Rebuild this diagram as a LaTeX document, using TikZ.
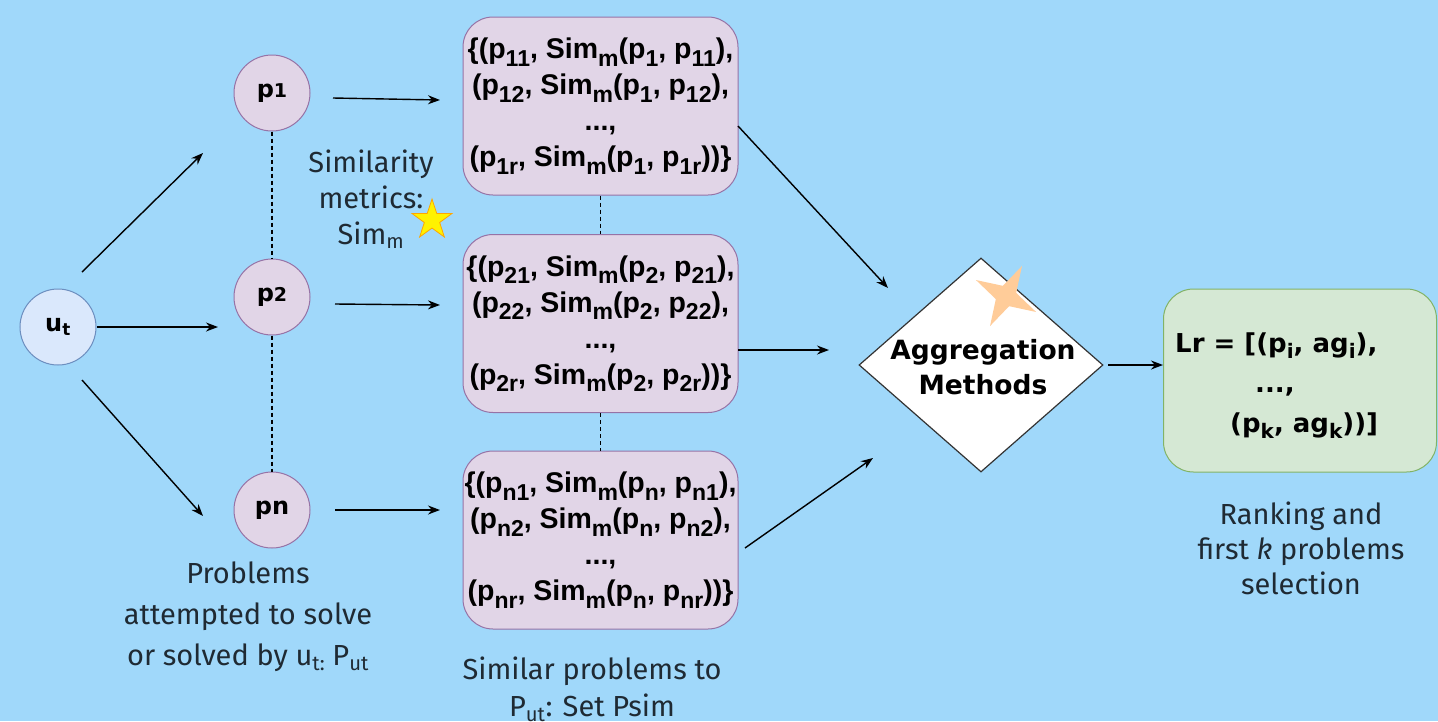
\documentclass[tikz,border=0pt]{standalone}
\usepackage{fontspec}
\setmainfont{Liberation Sans}
\newfontfamily\lblfont{Fira Sans}
\newfontfamily\vfont{DejaVu Sans}
\usetikzlibrary{shapes.geometric,arrows.meta}
\definecolor{bgblue}{RGB}{160,216,250}
\definecolor{purpfill}{HTML}{E1D5E7}
\definecolor{purpline}{HTML}{9673A6}
\definecolor{bluefill}{HTML}{DAE8FC}
\definecolor{blueline}{HTML}{6C8EBF}
\definecolor{greenfill}{HTML}{D5E8D4}
\definecolor{greenline}{HTML}{82B366}
\definecolor{starorange}{HTML}{FFCC99}
\definecolor{labelgray}{HTML}{1F2A33}
\newcommand{\sbx}[1]{\raisebox{-0.26em}{\fontsize{23}{23}\selectfont #1}}
\newcommand{\gsb}[1]{\raisebox{-0.25em}{\fontsize{20}{20}\selectfont #1}}
\begin{document}
\begin{tikzpicture}[x=1pt,y=-1pt,
  arr/.style={line width=1.4pt,-{Stealth[length=12pt,width=9pt]}},
  dsh/.style={line width=1.2pt,dash pattern=on 4pt off 3pt},
  pcirc/.style={circle,draw=purpline,fill=purpfill,line width=1pt,minimum size=76pt,inner sep=0pt,font=\vfont\bfseries\fontsize{24}{28}\selectfont},
  ucirc/.style={pcirc,draw=blueline,fill=bluefill},
  pbox/.style={rectangle,rounded corners=30pt,draw=purpline,fill=purpfill,line width=1pt,minimum width=275pt,minimum height=178pt,align=center,inner sep=0pt,font=\bfseries\fontsize{28.5}{36}\selectfont},
  gbox/.style={rectangle,rounded corners=30pt,draw=greenline,fill=greenfill,line width=1pt,minimum width=273pt,minimum height=183pt},
  gtext/.style={anchor=base west,inner sep=0pt,font=\vfont\bfseries\fontsize{26}{26}\selectfont},
  lbl/.style={anchor=north,align=center,text=labelgray,inner sep=0pt},
]
\fill[bgblue] (0,0) rectangle (1438,721);
\useasboundingbox (0,0) rectangle (1438,721);

% circles
\node[ucirc] (ut) at (58,327) {u\textsubscript{t}};
\node[pcirc] (p1) at (272,93) {p{\fontsize{19}{19}\selectfont 1}};
\node[pcirc] (p2) at (272,297) {p{\fontsize{19}{19}\selectfont 2}};
\node[pcirc] (pn) at (272,510) {pn};

% boxes
\node[pbox] (b1) at (600.5,106) {\{(p\sbx{11}, Sim\sbx{m}(p\sbx{1}, p\sbx{11}),\\(p\sbx{12}, Sim\sbx{m}(p\sbx{1}, p\sbx{12}),\\...,\\(p\sbx{1r}, Sim\sbx{m}(p\sbx{1}, p\sbx{1r}))\}};
\node[pbox] (b2) at (600.5,323.5) {\{(p\sbx{21}, Sim\sbx{m}(p\sbx{2}, p\sbx{21}),\\(p\sbx{22}, Sim\sbx{m}(p\sbx{2}, p\sbx{22}),\\...,\\(p\sbx{2r}, Sim\sbx{m}(p\sbx{2}, p\sbx{2r}))\}};
\node[pbox] (b3) at (600.5,540) {\{(p\sbx{n1}, Sim\sbx{m}(p\sbx{n}, p\sbx{n1}),\\(p\sbx{n2}, Sim\sbx{m}(p\sbx{n}, p\sbx{n2}),\\...,\\(p\sbx{nr}, Sim\sbx{m}(p\sbx{n}, p\sbx{nr}))\}};

% diamond
\node[diamond,draw=black!80,fill=white,line width=1.2pt,minimum width=244pt,minimum height=214pt,inner sep=0pt] (agg) at (981,365) {};
\node[align=center,inner sep=0pt,font=\vfont\bfseries\fontsize{26.5}{35}\selectfont] (aggtext) at (983,367) {Aggregation\\Methods};
\node[star,star points=4,star point ratio=3.2,fill=starorange,minimum size=68pt,inner sep=0pt,rotate=-28] (ostar) at (1006,296) {};

% result box
\node[gbox] (res) at (1300,380.5) {};
\node[gtext] (lr1) at (1175,352) {Lr = [(p\gsb{i}, ag\gsb{i}),};
\node[gtext] (lr2) at (1255,392) {...,};
\node[gtext] (lr3) at (1230,432) {(p\gsb{k}, ag\gsb{k}))]};

% yellow star
\node[star,star points=5,star point ratio=2.6,fill=yellow,draw=orange!70!yellow,line width=0.8pt,minimum size=42pt,inner sep=0pt] (ystar) at (432,220) {};

% labels
\node[lbl,font=\lblfont\fontsize{29}{36}\selectfont] (simlbl) at (371,150) {Similarity\\metrics:\\Sim\textsubscript{m}};
\node[lbl,font=\lblfont\fontsize{29}{41}\selectfont] (putlbl) at (248,562) {Problems\\attempted to solve\\or solved by u\textsubscript{t: }P\textsubscript{ut}};
\node[lbl,font=\lblfont\fontsize{29}{37}\selectfont] (psimlbl) at (592,657) {Similar problems to\\P\textsubscript{ut}: Set Psim};
\node[lbl,font=\lblfont\fontsize{29}{35}\selectfont] (ranklbl) at (1301,502) {Ranking and\\first \textit{k} problems\\selection};

% dashed links
\draw[dsh] (p1.south) -- (p2.north);
\draw[dsh] (p2.south) -- (pn.north);
\draw[dsh] (b1.south) -- (b2.north);
\draw[dsh] (b2.south) -- (b3.north);

% arrow end points
\coordinate (a1s) at (82,272);  \coordinate (a1e) at (203,153);
\coordinate (a2s) at (97,327);  \coordinate (a2e) at (218,327);
\coordinate (a3s) at (82,380);  \coordinate (a3e) at (203,516);
\coordinate (a4s) at (333,98);  \coordinate (a4e) at (440,100);
\coordinate (a5s) at (335,304); \coordinate (a5e) at (440,305);
\coordinate (a6s) at (335,510); \coordinate (a6e) at (440,510);
\coordinate (a7s) at (738,126); \coordinate (a7e) at (888,288);
\coordinate (a8s) at (738,350); \coordinate (a8e) at (829,350);
\coordinate (a9s) at (745,548); \coordinate (a9e) at (873,458);
\coordinate (a10s) at (1108,365);

\draw[arr] (a1s) -- (a1e);
\draw[arr] (a2s) -- (a2e);
\draw[arr] (a3s) -- (a3e);
\draw[arr] (a4s) -- (a4e);
\draw[arr] (a5s) -- (a5e);
\draw[arr] (a6s) -- (a6e);
\draw[arr] (a7s) -- (a7e);
\draw[arr] (a8s) -- (a8e);
\draw[arr] (a9s) -- (a9e);
\draw[arr] (a10s) -- (res.west |- a10s);
\end{tikzpicture}
\end{document}
